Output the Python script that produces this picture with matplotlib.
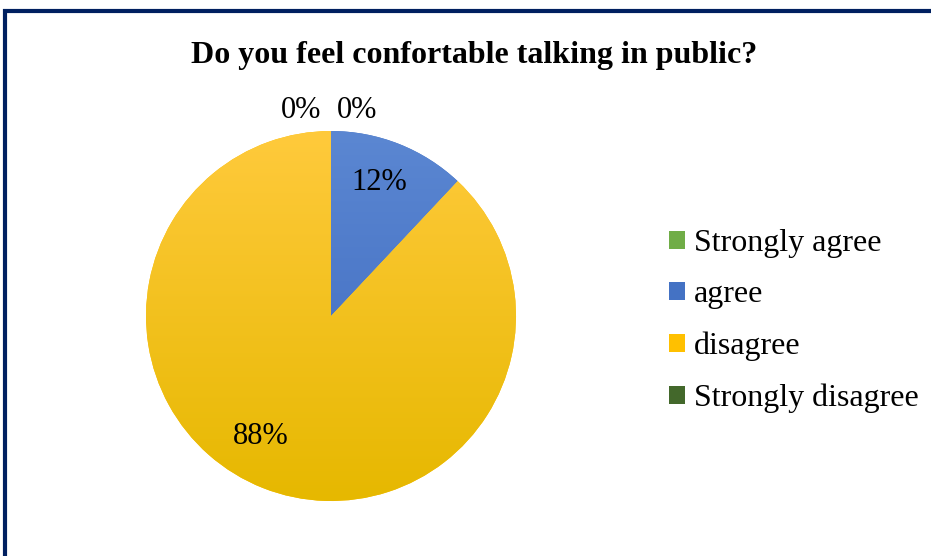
"""
Pie chart: Do you feel confortable talking in public?
"""

import numpy as np
from matplotlib import pyplot as plt
from matplotlib.colors import LinearSegmentedColormap
from matplotlib.patches import Patch, Rectangle

plt.rcParams['font.family'] = ['Liberation Serif', 'DejaVu Serif']

categories = ['Strongly agree', 'agree', 'disagree', 'Strongly disagree']
values = [0, 12, 88, 0]
colors = ['#70AD47', '#4472C4', '#FFC000', '#43682B']
# lighter top, darker bottom (Excel style gradient)
grad_top = ['#8DC26A', '#5B87D2', '#FFCA3C', '#5A8040']
grad_bottom = ['#5E9A38', '#3B67BD', '#E6B800', '#375A22']

fig = plt.figure(figsize=(9.31, 5.56), dpi=100)

# chart border
fig.patches.append(Rectangle((5 / 931, -0.05), 1.0, 1 - 11.5 / 556 + 0.05,
                             transform=fig.transFigure, fill=False,
                             edgecolor='#002060', linewidth=3))

fig.text(474 / 931, 1 - 55 / 556, 'Do you feel confortable talking in public?',
         ha='center', va='center', fontsize=23, fontweight='bold')

ax = fig.add_axes([(331 - 185) / 931, (556 - 316 - 185) / 556, 370 / 931, 370 / 556])
wedges, texts, autotexts = ax.pie(values, colors=colors, startangle=90,
                                  counterclock=False, radius=1,
                                  autopct='%1.0f%%', pctdistance=0.77,
                                  textprops={'fontsize': 22})
ax.set_xlim(-1, 1)
ax.set_ylim(-1, 1)
ax.set_aspect('equal')
ax.axis('off')

# gradient fill clipped to each wedge
for w, v, top, bot in zip(wedges, values, grad_top, grad_bottom):
    if v == 0:
        continue
    cmap = LinearSegmentedColormap.from_list('g', [bot, top])
    grad = np.linspace(0, 1, 256).reshape(-1, 1)
    im = ax.imshow(grad, cmap=cmap, extent=(-1, 1, -1, 1), origin='lower',
                   aspect='auto', zorder=w.get_zorder() + 0.1)
    im.set_clip_path(w)

# label placement as in the original chart
autotexts[0].set_position((-0.16, 1.11))
autotexts[1].set_position((0.26, 0.72))
autotexts[2].set_position((-0.38, -0.65))
autotexts[3].set_position((0.14, 1.11))
for t in autotexts:
    t.set_zorder(5)

handles = [Patch(facecolor=c, edgecolor='none') for c in colors]
fig.legend(handles, categories, loc='center left',
           bbox_to_anchor=(640 / 931, 1 - 321 / 556), frameon=False,
           fontsize=23, handlelength=0.5, handleheight=0.5,
           handletextpad=0.28, labelspacing=0.7)

fig.savefig('out.png', dpi=100)
